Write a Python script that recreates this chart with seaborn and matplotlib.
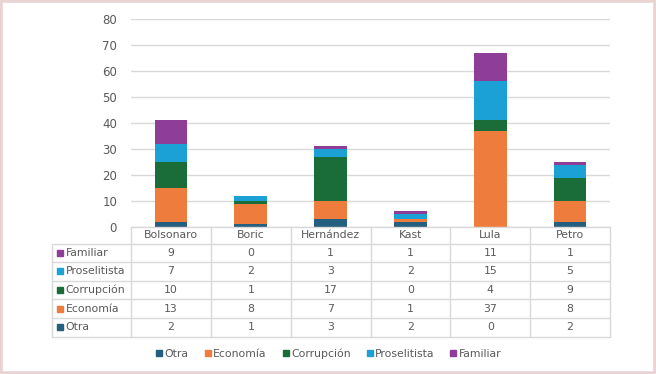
import numpy as np
import pandas as pd
import seaborn as sns
import matplotlib.pyplot as plt
import matplotlib.transforms as mtransforms
from matplotlib.lines import Line2D
from matplotlib.patches import Rectangle

candidatos = ["Bolsonaro", "Boric", "Hernández", "Kast", "Lula", "Petro"]
otra = [2, 1, 3, 2, 0, 2]
economia = [13, 8, 7, 1, 37, 8]
corrupcion = [10, 1, 17, 0, 4, 9]
proselitista = [7, 2, 3, 2, 15, 5]
familiar = [9, 0, 1, 1, 11, 1]

series = ["Otra", "Economía", "Corrupción", "Proselitista", "Familiar"]
colores = ["#255f7f", "#ee7d3d", "#1a6d39", "#1ba1d6", "#8f3e97"]

df = pd.DataFrame({"candidato": candidatos, "Otra": otra, "Economía": economia,
                   "Corrupción": corrupcion, "Proselitista": proselitista,
                   "Familiar": familiar})

sns.set_style("white")
plt.rcParams["font.family"] = ["DejaVu Sans"]
plt.rcParams["font.size"] = 7.8
gris_txt = "#595959"
gris_lin = "#d9d9d9"

fig = plt.figure(figsize=(6.56, 3.74), dpi=100)
ax = fig.add_axes([131 / 656, 1 - 227 / 374, 479 / 656, 208 / 374])

bottom = np.zeros(len(candidatos))
for s, c in zip(series, colores):
    sns.barplot(data=df, x="candidato", y=s, color=c, width=0.41, bottom=bottom,
                saturation=1, errorbar=None, ax=ax, linewidth=0)
    bottom += df[s].values

ax.set_ylim(0, 80)
ax.set_xlim(-0.5, len(candidatos) - 0.5)
ax.set_yticks(range(0, 81, 10))
ax.yaxis.grid(True, color=gris_lin, lw=1)
ax.set_axisbelow(True)
ax.set_xlabel("")
ax.set_ylabel("")
ax.set_xticks([])
ax.tick_params(axis="y", length=0, colors=gris_txt, labelsize=8.5, pad=10)
for side in ["left", "right", "top"]:
    ax.spines[side].set_visible(False)
ax.spines["bottom"].set_color(gris_lin)
ax.spines["bottom"].set_linewidth(1)

# tabla de datos
trans = mtransforms.blended_transform_factory(ax.transData, ax.transAxes)
px = 1 / 208
h_head = 16.5 * px
h_row = 18.6 * px
x_left = -0.5 - 79 / 79.8
x_right = len(candidatos) - 0.5
n_rows = len(series)
y_head = -h_head
y_bottom = y_head - n_rows * h_row

lk = dict(color=gris_lin, lw=1, transform=trans, clip_on=False)
for k in range(len(candidatos) + 1):
    ax.plot([k - 0.5, k - 0.5], [0, y_bottom], **lk)
ax.plot([x_left, x_left], [y_head, y_bottom], **lk)
for r in range(n_rows + 1):
    y = y_head - r * h_row
    ax.plot([x_left, x_right], [y, y], **lk)

for i, cand in enumerate(candidatos):
    ax.text(i, y_head / 2, cand, ha="center", va="center", color=gris_txt,
            transform=trans, clip_on=False)

filas = list(zip(series, colores, [otra, economia, corrupcion, proselitista, familiar]))[::-1]
for r, (s, c, vals) in enumerate(filas):
    yc = y_head - (r + 0.5) * h_row
    ax.plot([x_left + 0.1], [yc], marker="s", ms=4.3, color=c, linestyle="",
            transform=trans, clip_on=False)
    ax.text(x_left + 0.17, yc, s, ha="left", va="center", color=gris_txt,
            transform=trans, clip_on=False)
    for i, v in enumerate(vals):
        ax.text(i, yc, str(v), ha="center", va="center", color=gris_txt,
                transform=trans, clip_on=False)

handles = [Line2D([], [], marker="s", linestyle="", color=c, markersize=4.5) for c in colores]
fig.legend(handles, series, ncol=5, loc="center", bbox_to_anchor=(0.5, 1 - 354 / 374),
           frameon=False, handletextpad=0.05, columnspacing=1.3, handlelength=0.9,
           labelcolor=gris_txt, fontsize=7.8)

fig.patches.append(Rectangle((0, 0), 1, 1, transform=fig.transFigure, fill=False,
                             edgecolor="#e9d3d3", lw=4))

fig.savefig("out.png", dpi=100)
